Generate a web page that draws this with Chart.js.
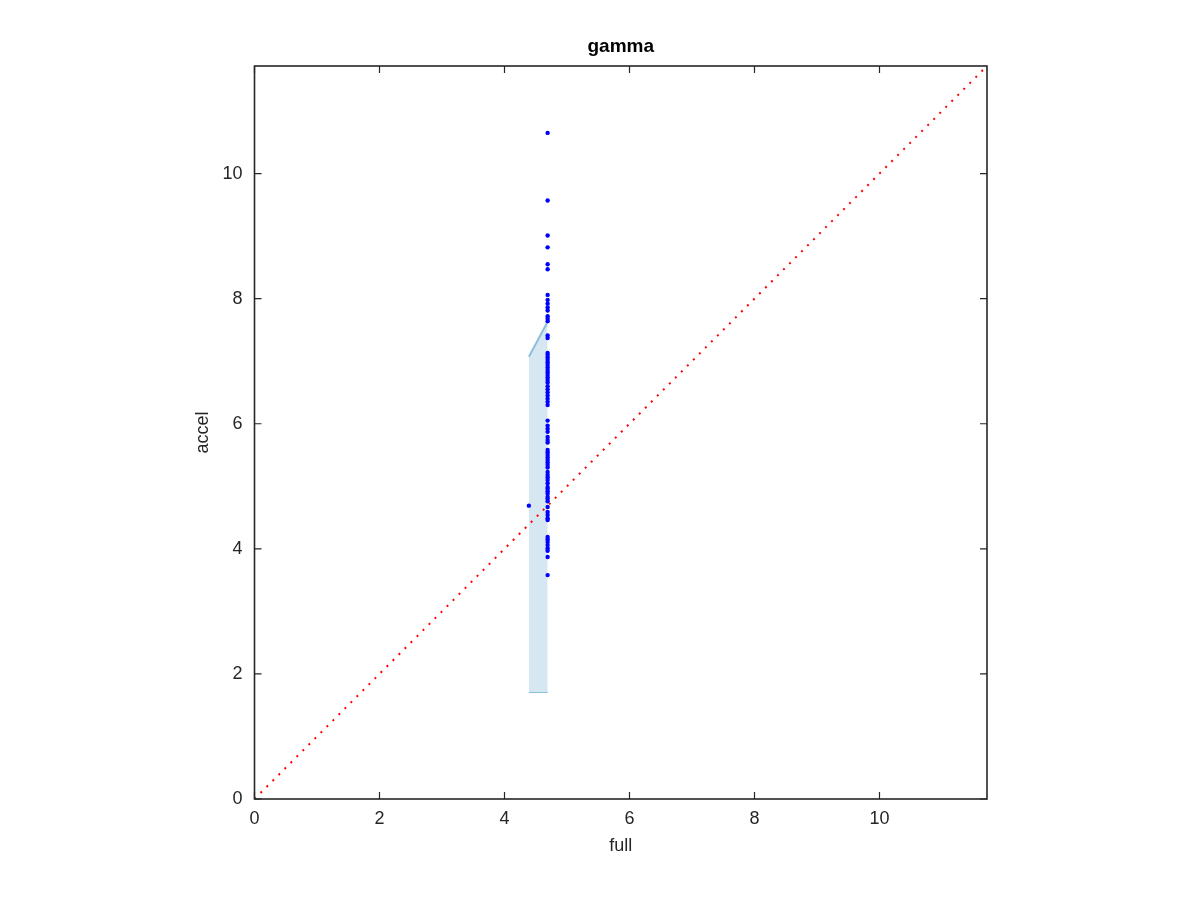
<!DOCTYPE html>
<html>
<head>
<meta charset="utf-8">
<script src="https://cdn.jsdelivr.net/npm/chart.js@4/dist/chart.umd.min.js"></script>
<style>
  html, body { margin: 0; padding: 0; background: #fff; }
  canvas { display: block; }
</style>
</head>
<body>
<canvas id="chart" width="1200" height="900"></canvas>
<script>
const axisMax = 11.72
const xTicks = [0, 2, 4, 6, 8, 10]
const yTicks = [0, 2, 4, 6, 8, 10]

// accel values, all at full = 4.69
const columnX = 4.69
const columnY = [10.65, 9.57, 9.01, 8.82, 8.55, 8.47, 8.06, 7.98, 7.92, 7.86, 7.81, 7.72, 7.68, 7.64,
  7.41, 7.37, 7.13, 7.10, 7.06, 7.02, 6.98, 6.94, 6.90, 6.86, 6.82, 6.78, 6.74, 6.70, 6.66, 6.60,
  6.55, 6.50, 6.45, 6.40, 6.35, 6.30, 6.05, 5.97, 5.92, 5.87, 5.79, 5.74, 5.70, 5.58, 5.54, 5.50,
  5.46, 5.42, 5.38, 5.34, 5.30, 5.23, 5.18, 5.14, 5.10, 5.05, 4.99, 4.96, 4.92, 4.88, 4.83, 4.80,
  4.76, 4.67, 4.59, 4.54, 4.49, 4.46, 4.19, 4.15, 4.11, 4.06, 4.01, 3.97, 3.87, 3.58]
const loneX = [4.39]
const loneY = [4.69]

// shaded band
const bandX = [4.39, 4.69]
const bandUpper = [7.07, 7.63]
const bandLower = [1.71, 1.71]

const textColor = '#262626'
const fontFamily = '"Liberation Sans", Helvetica, Arial, sans-serif'

const points = columnY.map(y => ({ x: columnX, y: y }))
  .concat(loneX.map((x, i) => ({ x: x, y: loneY[i] })))

const boxTicks = {
  id: 'boxTicks',
  afterDatasetsDraw(chart) {
    const { ctx, chartArea: a, scales } = chart
    const len = 7
    ctx.save()
    ctx.strokeStyle = textColor
    ctx.lineWidth = 1.2
    ctx.beginPath()
    xTicks.forEach(v => {
      const px = scales.x.getPixelForValue(v)
      ctx.moveTo(px, a.bottom); ctx.lineTo(px, a.bottom - len)
      ctx.moveTo(px, a.top); ctx.lineTo(px, a.top + len)
    })
    yTicks.forEach(v => {
      const py = scales.y.getPixelForValue(v)
      ctx.moveTo(a.left, py); ctx.lineTo(a.left + len, py)
      ctx.moveTo(a.right, py); ctx.lineTo(a.right - len, py)
    })
    ctx.stroke()
    ctx.lineWidth = 1.6
    ctx.strokeRect(a.left, a.top, a.right - a.left, a.bottom - a.top)
    ctx.restore()
  }
}

new Chart(document.getElementById('chart'), {
  type: 'scatter',
  data: {
    datasets: [
      {
        type: 'line',
        data: bandX.map((x, i) => ({ x: x, y: bandUpper[i] })),
        borderColor: '#8cc0dd',
        borderWidth: 2,
        backgroundColor: '#d7e7f2',
        pointRadius: 0,
        fill: '+1',
        order: 3
      },
      {
        type: 'line',
        data: bandX.map((x, i) => ({ x: x, y: bandLower[i] })),
        borderColor: '#8cc0dd',
        borderWidth: 2,
        pointRadius: 0,
        fill: false,
        order: 3
      },
      {
        type: 'line',
        data: [{ x: 0, y: 0 }, { x: axisMax, y: axisMax }],
        borderColor: '#ff0000',
        borderWidth: 2,
        borderDash: [2, 6.5],
        pointRadius: 0,
        fill: false,
        order: 2
      },
      {
        data: points,
        backgroundColor: '#0000ff',
        borderColor: '#0000ff',
        pointRadius: 2.2,
        borderWidth: 0,
        order: 1
      }
    ]
  },
  options: {
    responsive: false,
    animation: false,
    devicePixelRatio: 1,
    layout: { padding: { left: 185, right: 213, top: 0, bottom: 31 } },
    plugins: {
      legend: { display: false },
      tooltip: { enabled: false },
      title: {
        display: true,
        text: 'gamma',
        fullSize: false,
        color: '#000',
        font: { family: fontFamily, size: 19, weight: 'bold' },
        padding: { top: 35.2, bottom: 8 }
      }
    },
    scales: {
      x: {
        type: 'linear',
        min: 0,
        max: axisMax,
        afterFit: s => { s.height = 70 },
        afterBuildTicks: s => { s.ticks = xTicks.map(v => ({ value: v })) },
        grid: { display: false, drawTicks: false },
        border: { display: false },
        ticks: { color: textColor, padding: 9, maxRotation: 0, font: { family: fontFamily, size: 18 } },
        title: { display: true, text: 'full', color: textColor, padding: { top: 4, bottom: 12 }, font: { family: fontFamily, size: 18 } }
      },
      y: {
        type: 'linear',
        min: 0,
        max: axisMax,
        afterFit: s => { s.width = 69.5 },
        afterBuildTicks: s => { s.ticks = yTicks.map(v => ({ value: v })) },
        grid: { display: false, drawTicks: false },
        border: { display: false },
        ticks: { color: textColor, padding: 12, font: { family: fontFamily, size: 18 } },
        title: { display: true, text: 'accel', color: textColor, padding: { top: 7.5, bottom: 4 }, font: { family: fontFamily, size: 18 } }
      }
    }
  },
  plugins: [boxTicks]
})
</script>
</body>
</html>
